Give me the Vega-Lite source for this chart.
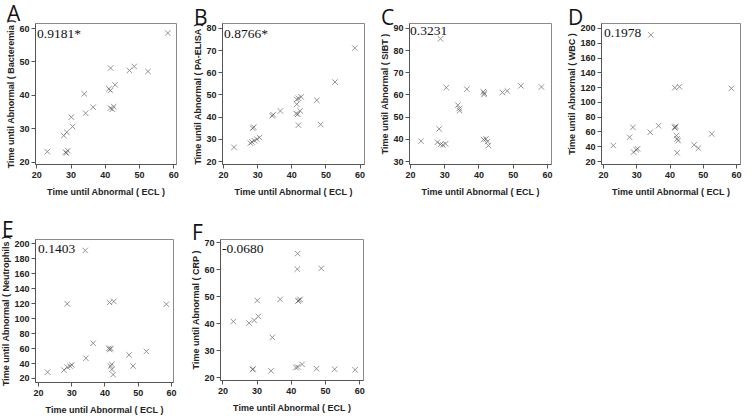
{
  "$schema": "https://vega.github.io/schema/vega-lite/v6.json",
  "background": "white",
  "padding": {"left": 1, "top": 3, "right": 0, "bottom": 0},
  "datasets": {
    "pts": [
      {"panel":"A","ecl":23.2,"val":23.0},{"panel":"A","ecl":28.0,"val":27.8},{"panel":"A","ecl":28.9,"val":28.8},{"panel":"A","ecl":28.5,"val":22.8},{"panel":"A","ecl":29.2,"val":23.3},{"panel":"A","ecl":28.8,"val":22.6},{"panel":"A","ecl":30.2,"val":33.3},{"panel":"A","ecl":30.6,"val":30.5},{"panel":"A","ecl":34.0,"val":40.3},{"panel":"A","ecl":34.4,"val":34.5},{"panel":"A","ecl":36.6,"val":36.3},{"panel":"A","ecl":41.7,"val":48.0},{"panel":"A","ecl":41.2,"val":41.8},{"panel":"A","ecl":41.6,"val":41.3},{"panel":"A","ecl":43.0,"val":43.0},{"panel":"A","ecl":41.6,"val":36.0},{"panel":"A","ecl":42.2,"val":35.7},{"panel":"A","ecl":42.6,"val":36.5},{"panel":"A","ecl":47.2,"val":47.3},{"panel":"A","ecl":48.6,"val":48.5},{"panel":"A","ecl":52.6,"val":47.0},{"panel":"A","ecl":58.4,"val":58.5},
      {"panel":"B","ecl":23.2,"val":26.2},{"panel":"B","ecl":28.0,"val":28.1},{"panel":"B","ecl":28.7,"val":34.8},{"panel":"B","ecl":29.0,"val":35.3},{"panel":"B","ecl":28.5,"val":28.6},{"panel":"B","ecl":29.2,"val":29.2},{"panel":"B","ecl":29.9,"val":29.9},{"panel":"B","ecl":30.7,"val":30.6},{"panel":"B","ecl":34.4,"val":40.4},{"panel":"B","ecl":34.7,"val":40.9},{"panel":"B","ecl":36.8,"val":42.6},{"panel":"B","ecl":41.6,"val":47.8},{"panel":"B","ecl":42.1,"val":48.3},{"panel":"B","ecl":42.9,"val":48.9},{"panel":"B","ecl":41.6,"val":45.6},{"panel":"B","ecl":41.4,"val":41.4},{"panel":"B","ecl":41.9,"val":41.1},{"panel":"B","ecl":42.6,"val":42.6},{"panel":"B","ecl":42.1,"val":36.2},{"panel":"B","ecl":47.5,"val":47.4},{"panel":"B","ecl":48.6,"val":36.5},{"panel":"B","ecl":52.8,"val":55.6},{"panel":"B","ecl":58.6,"val":70.9},
      {"panel":"C","ecl":23.2,"val":39.0},{"panel":"C","ecl":28.9,"val":85.1},{"panel":"C","ecl":28.5,"val":44.5},{"panel":"C","ecl":28.0,"val":38.5},{"panel":"C","ecl":28.9,"val":37.5},{"panel":"C","ecl":29.6,"val":37.3},{"panel":"C","ecl":30.4,"val":37.8},{"panel":"C","ecl":30.6,"val":63.1},{"panel":"C","ecl":34.0,"val":55.2},{"panel":"C","ecl":34.4,"val":53.7},{"panel":"C","ecl":34.5,"val":52.7},{"panel":"C","ecl":36.6,"val":62.4},{"panel":"C","ecl":41.4,"val":61.2},{"panel":"C","ecl":41.7,"val":60.6},{"panel":"C","ecl":41.6,"val":60.0},{"panel":"C","ecl":41.5,"val":39.7},{"panel":"C","ecl":42.2,"val":40.0},{"panel":"C","ecl":42.6,"val":38.8},{"panel":"C","ecl":42.9,"val":37.0},{"panel":"C","ecl":47.0,"val":60.9},{"panel":"C","ecl":48.4,"val":61.6},{"panel":"C","ecl":52.4,"val":63.9},{"panel":"C","ecl":58.4,"val":63.4},
      {"panel":"D","ecl":23.1,"val":41.0},{"panel":"D","ecl":28.0,"val":52.2},{"panel":"D","ecl":29.0,"val":65.6},{"panel":"D","ecl":29.2,"val":32.1},{"panel":"D","ecl":30.0,"val":35.2},{"panel":"D","ecl":30.4,"val":36.5},{"panel":"D","ecl":34.4,"val":190.6},{"panel":"D","ecl":34.2,"val":58.9},{"panel":"D","ecl":36.7,"val":67.8},{"panel":"D","ecl":41.5,"val":65.6},{"panel":"D","ecl":41.9,"val":66.9},{"panel":"D","ecl":41.7,"val":65.0},{"panel":"D","ecl":41.6,"val":119.2},{"panel":"D","ecl":43.0,"val":120.5},{"panel":"D","ecl":42.1,"val":54.4},{"panel":"D","ecl":42.3,"val":50.0},{"panel":"D","ecl":42.6,"val":47.7},{"panel":"D","ecl":42.3,"val":31.2},{"panel":"D","ecl":47.4,"val":41.9},{"panel":"D","ecl":48.7,"val":37.4},{"panel":"D","ecl":52.7,"val":56.6},{"panel":"D","ecl":58.6,"val":118.3},
      {"panel":"E","ecl":22.9,"val":27.7},{"panel":"E","ecl":27.8,"val":30.5},{"panel":"E","ecl":28.8,"val":34.5},{"panel":"E","ecl":29.6,"val":35.9},{"panel":"E","ecl":30.2,"val":37.3},{"panel":"E","ecl":28.8,"val":119.1},{"panel":"E","ecl":34.2,"val":190.5},{"panel":"E","ecl":34.4,"val":46.4},{"panel":"E","ecl":36.6,"val":66.4},{"panel":"E","ecl":41.5,"val":120.9},{"panel":"E","ecl":42.8,"val":122.3},{"panel":"E","ecl":41.3,"val":59.5},{"panel":"E","ecl":41.9,"val":59.5},{"panel":"E","ecl":41.6,"val":58.0},{"panel":"E","ecl":41.8,"val":35.9},{"panel":"E","ecl":42.2,"val":38.2},{"panel":"E","ecl":42.2,"val":31.4},{"panel":"E","ecl":42.6,"val":24.5},{"panel":"E","ecl":47.4,"val":50.9},{"panel":"E","ecl":48.6,"val":35.9},{"panel":"E","ecl":52.6,"val":55.5},{"panel":"E","ecl":58.6,"val":118.6},
      {"panel":"F","ecl":23.2,"val":40.6},{"panel":"F","ecl":27.8,"val":40.0},{"panel":"F","ecl":29.3,"val":41.0},{"panel":"F","ecl":30.5,"val":42.5},{"panel":"F","ecl":30.2,"val":48.4},{"panel":"F","ecl":36.9,"val":48.8},{"panel":"F","ecl":34.6,"val":34.7},{"panel":"F","ecl":42.0,"val":65.8},{"panel":"F","ecl":41.9,"val":60.0},{"panel":"F","ecl":48.9,"val":60.3},{"panel":"F","ecl":42.1,"val":48.2},{"panel":"F","ecl":42.7,"val":48.8},{"panel":"F","ecl":42.4,"val":48.4},{"panel":"F","ecl":29.0,"val":23.0},{"panel":"F","ecl":28.8,"val":22.8},{"panel":"F","ecl":34.2,"val":22.3},{"panel":"F","ecl":41.5,"val":23.5},{"panel":"F","ecl":42.0,"val":23.7},{"panel":"F","ecl":43.3,"val":24.7},{"panel":"F","ecl":47.5,"val":23.1},{"panel":"F","ecl":52.8,"val":22.9},{"panel":"F","ecl":58.8,"val":22.7}
    ],
    "labels": [
      {"panel":"A","r":"0.9181*"},{"panel":"B","r":"0.8766*"},{"panel":"C","r":"0.3231"},{"panel":"D","r":"0.1978"},{"panel":"E","r":"0.1403"},{"panel":"F","r":"-0.0680"}
    ]
  },
  "vconcat": [
    {
      "spacing": 14,
      "hconcat": [
        {
          "title": {"text": "A"},
          "width": 141, "height": 141,
          "layer": [
            {"data": {"name": "pts"}, "transform": [{"filter": "datum.panel === 'A'"}],
             "mark": {"type": "point", "shape": "M-1,-1L1,1M-1,1L1,-1", "filled": false, "stroke": "#444", "strokeWidth": 0.8, "size": 30},
             "encoding": {
               "x": {"field": "ecl", "type": "quantitative", "scale": {"domain": [19.6, 60.8], "nice": false, "zero": false}, "axis": {"values": [20,30,40,50,60], "tickCount": 12, "title": "Time until Abnormal ( ECL )"}},
               "y": {"field": "val", "type": "quantitative", "scale": {"domain": [19.3, 61.5], "nice": false, "zero": false}, "axis": {"values": [20,30,40,50,60], "tickCount": 12, "title": "Time until Abnormal ( Bacteremia )"}}
             }},
            {"data": {"name": "labels"}, "transform": [{"filter": "datum.panel === 'A'"}],
             "mark": {"type": "text", "align": "left", "baseline": "top", "font": "Liberation Serif", "fontSize": 13.5, "dx": 2, "dy": 4, "color": "#111"},
             "encoding": {"x": {"datum": 19.6, "type": "quantitative"}, "y": {"datum": 61.5, "type": "quantitative"}, "text": {"field": "r"}}}
          ]
        },
        {
          "title": {"text": "B"},
          "width": 142, "height": 141,
          "layer": [
            {"data": {"name": "pts"}, "transform": [{"filter": "datum.panel === 'B'"}],
             "mark": {"type": "point", "shape": "M-1,-1L1,1M-1,1L1,-1", "filled": false, "stroke": "#444", "strokeWidth": 0.8, "size": 30},
             "encoding": {
               "x": {"field": "ecl", "type": "quantitative", "scale": {"domain": [19.7, 61.3], "nice": false, "zero": false}, "axis": {"values": [20,30,40,50,60], "tickCount": 12, "title": "Time until Abnormal ( ECL )"}},
               "y": {"field": "val", "type": "quantitative", "scale": {"domain": [18.7, 82.2], "nice": false, "zero": false}, "axis": {"values": [20,30,40,50,60,70,80], "tickCount": 12, "title": "Time until Abnormal ( PA-ELISA )"}}
             }},
            {"data": {"name": "labels"}, "transform": [{"filter": "datum.panel === 'B'"}],
             "mark": {"type": "text", "align": "left", "baseline": "top", "font": "Liberation Serif", "fontSize": 13.5, "dx": 2, "dy": 4, "color": "#111"},
             "encoding": {"x": {"datum": 19.7, "type": "quantitative"}, "y": {"datum": 82.2, "type": "quantitative"}, "text": {"field": "r"}}}
          ]
        },
        {
          "title": {"text": "C"},
          "width": 142, "height": 141,
          "layer": [
            {"data": {"name": "pts"}, "transform": [{"filter": "datum.panel === 'C'"}],
             "mark": {"type": "point", "shape": "M-1,-1L1,1M-1,1L1,-1", "filled": false, "stroke": "#444", "strokeWidth": 0.8, "size": 30},
             "encoding": {
               "x": {"field": "ecl", "type": "quantitative", "scale": {"domain": [19.7, 61.2], "nice": false, "zero": false}, "axis": {"values": [20,30,40,50,60], "tickCount": 12, "title": "Time until Abnormal ( ECL )"}},
               "y": {"field": "val", "type": "quantitative", "scale": {"domain": [28.7, 92.2], "nice": false, "zero": false}, "axis": {"values": [30,40,50,60,70,80,90], "tickCount": 12, "title": "Time until Abnormal ( SIBT )"}}
             }},
            {"data": {"name": "labels"}, "transform": [{"filter": "datum.panel === 'C'"}],
             "mark": {"type": "text", "align": "left", "baseline": "top", "font": "Liberation Serif", "fontSize": 13.5, "dx": 1, "dy": 1, "color": "#111"},
             "encoding": {"x": {"datum": 19.7, "type": "quantitative"}, "y": {"datum": 92.2, "type": "quantitative"}, "text": {"field": "r"}}}
          ]
        },
        {
          "title": {"text": "D"},
          "width": 139, "height": 141,
          "layer": [
            {"data": {"name": "pts"}, "transform": [{"filter": "datum.panel === 'D'"}],
             "mark": {"type": "point", "shape": "M-1,-1L1,1M-1,1L1,-1", "filled": false, "stroke": "#444", "strokeWidth": 0.8, "size": 30},
             "encoding": {
               "x": {"field": "ecl", "type": "quantitative", "scale": {"domain": [19.4, 61.2], "nice": false, "zero": false}, "axis": {"values": [20,30,40,50,60], "tickCount": 12, "title": "Time until Abnormal ( ECL )"}},
               "y": {"field": "val", "type": "quantitative", "scale": {"domain": [16, 206.7], "nice": false, "zero": false}, "axis": {"values": [20,40,60,80,100,120,140,160,180,200], "tickCount": 12, "title": "Time until Abnormal ( WBC )"}}
             }},
            {"data": {"name": "labels"}, "transform": [{"filter": "datum.panel === 'D'"}],
             "mark": {"type": "text", "align": "left", "baseline": "top", "font": "Liberation Serif", "fontSize": 13.5, "dx": 3, "dy": 3, "color": "#111"},
             "encoding": {"x": {"datum": 19.4, "type": "quantitative"}, "y": {"datum": 206.7, "type": "quantitative"}, "text": {"field": "r"}}}
          ]
        }
      ]
    },
    {
      "spacing": 14,
      "hconcat": [
        {
          "title": {"text": "E"},
          "width": 138, "height": 143,
          "layer": [
            {"data": {"name": "pts"}, "transform": [{"filter": "datum.panel === 'E'"}],
             "mark": {"type": "point", "shape": "M-1,-1L1,1M-1,1L1,-1", "filled": false, "stroke": "#444", "strokeWidth": 0.8, "size": 30},
             "encoding": {
               "x": {"field": "ecl", "type": "quantitative", "scale": {"domain": [19.1, 60.6], "nice": false, "zero": false}, "axis": {"values": [20,30,40,50,60], "tickCount": 12, "title": "Time until Abnormal ( ECL )"}},
               "y": {"field": "val", "type": "quantitative", "scale": {"domain": [14.6, 205.8], "nice": false, "zero": false}, "axis": {"values": [20,40,60,80,100,120,140,160,180,200], "tickCount": 12, "title": "Time until Abnormal ( Neutrophils )"}}
             }},
            {"data": {"name": "labels"}, "transform": [{"filter": "datum.panel === 'E'"}],
             "mark": {"type": "text", "align": "left", "baseline": "top", "font": "Liberation Serif", "fontSize": 13.5, "dx": 3, "dy": 3, "color": "#111"},
             "encoding": {"x": {"datum": 19.1, "type": "quantitative"}, "y": {"datum": 205.8, "type": "quantitative"}, "text": {"field": "r"}}}
          ]
        },
        {
          "title": {"text": "F"},
          "width": 143, "height": 141,
          "layer": [
            {"data": {"name": "pts"}, "transform": [{"filter": "datum.panel === 'F'"}],
             "mark": {"type": "point", "shape": "M-1,-1L1,1M-1,1L1,-1", "filled": false, "stroke": "#444", "strokeWidth": 0.8, "size": 30},
             "encoding": {
               "x": {"field": "ecl", "type": "quantitative", "scale": {"domain": [19.3, 61.1], "nice": false, "zero": false}, "axis": {"values": [20,30,40,50,60], "tickCount": 12, "title": "Time until Abnormal ( ECL )"}},
               "y": {"field": "val", "type": "quantitative", "scale": {"domain": [18.9, 71.2], "nice": false, "zero": false}, "axis": {"values": [20,30,40,50,60,70], "tickCount": 12, "title": "Time until Abnormal ( CRP )"}}
             }},
            {"data": {"name": "labels"}, "transform": [{"filter": "datum.panel === 'F'"}],
             "mark": {"type": "text", "align": "left", "baseline": "top", "font": "Liberation Serif", "fontSize": 13.5, "dx": 2, "dy": 3, "color": "#111"},
             "encoding": {"x": {"datum": 19.3, "type": "quantitative"}, "y": {"datum": 71.2, "type": "quantitative"}, "text": {"field": "r"}}}
          ]
        }
      ]
    }
  ],
  "spacing": 22,
  "config": {
    "view": {"stroke": "#8a8a8a", "strokeWidth": 1},
    "axis": {
      "grid": false,
      "labelFont": "Liberation Sans", "labelFontWeight": "bold", "labelFontSize": 9, "labelColor": "#222",
      "titleFont": "Liberation Sans", "titleFontWeight": "bold", "titleFontSize": 9, "titleColor": "#222",
      "domainColor": "#555", "tickColor": "#555", "tickSize": 4, "labelPadding": 2, "titlePadding": 3, "labelOverlap": false
    },
    "axisX": {"titlePadding": 8},
    "axisY": {"labelAngle": 0},
    "title": {"font": "Open Sans", "fontSize": 21, "fontWeight": "normal", "anchor": "start", "frame": "bounds", "color": "#111", "offset": -6}
  }
}
